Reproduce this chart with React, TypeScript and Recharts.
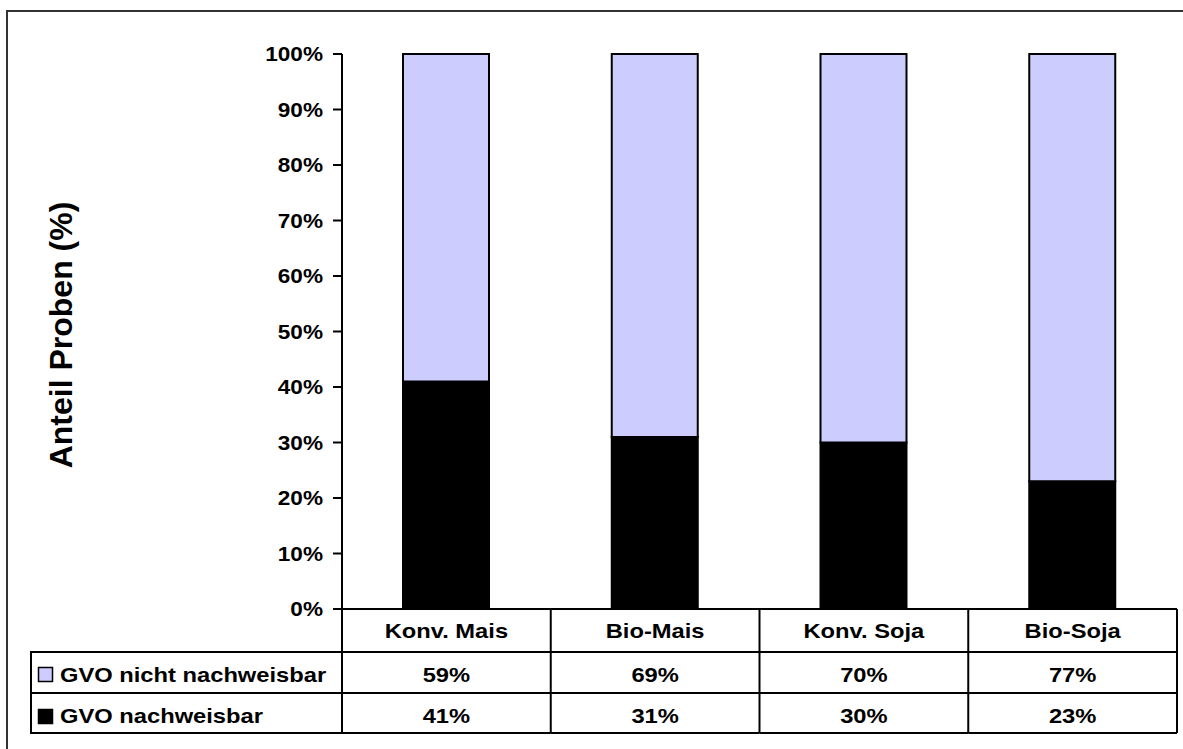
import React from 'react';
import { BarChart, Bar, XAxis, YAxis } from 'recharts';

const categories = ['Konv. Mais', 'Bio-Mais', 'Konv. Soja', 'Bio-Soja'];
const gvoNachweisbar = [41, 31, 30, 23];
const gvoNichtNachweisbar = [59, 69, 70, 77];
const seriesNames = ['GVO nicht nachweisbar', 'GVO nachweisbar'];
const yTicks = [0, 10, 20, 30, 40, 50, 60, 70, 80, 90, 100];
const yTitle = 'Anteil Proben (%)';

const W = 1183;
const H = 749;
const FONT = '"Liberation Sans", Arial, sans-serif';
const LIGHT = '#ccccff';
const STRETCH = 1.13;

const margin = { top: 54, right: 6, bottom: 0, left: 0 };
const Y_AXIS_W = 342;
const X_AXIS_H = 140;
const BAND = (W - margin.right - Y_AXIS_W) / categories.length;

const data = categories.map((c, i) => ({
  name: c,
  detected: gvoNachweisbar[i],
  notDetected: gvoNichtNachweisbar[i],
}));

function StretchText({ x, y, anchor = 'middle', size = 21, children }: any) {
  return (
    <g transform={`translate(${x},${y}) scale(${STRETCH},1)`}>
      <text x={0} y={0} textAnchor={anchor} fontFamily={FONT} fontWeight={700} fontSize={size} fill="#000">
        {children}
      </text>
    </g>
  );
}

function YTick({ x, y, payload }: any) {
  return (
    <g transform={`translate(${x},${y}) scale(${STRETCH},1)`}>
      <text x={0} y={0} dy="0.36em" textAnchor="end" fontFamily={FONT} fontWeight={700} fontSize={20} fill="#000">
        {payload.value}%
      </text>
    </g>
  );
}

function YTitle() {
  return (
    <g transform="translate(72,335) rotate(-90)">
      <text x={0} y={0} textAnchor="middle" fontFamily={FONT} fontWeight={700} fontSize={32} fill="#000">
        {yTitle}
      </text>
    </g>
  );
}

// one column of the data table under each category; the first one also draws the legend column
function TableColumn({ x, payload }: any) {
  const i = categories.indexOf(payload.value);
  const top = 609;
  const left = x - BAND / 2;
  const right = x + BAND / 2;
  const r1 = top + 43;
  const r2 = top + 84;
  const r3 = top + 124;
  const line = { stroke: '#000', strokeWidth: 2 };
  return (
    <g>
      <line x1={right} y1={top} x2={right} y2={r3} {...line} />
      <line x1={left} y1={r1} x2={right} y2={r1} {...line} />
      <line x1={left} y1={r2} x2={right} y2={r2} {...line} />
      <line x1={left} y1={r3} x2={right} y2={r3} {...line} />
      {i === 0 && (
        <g>
          <line x1={left} y1={top} x2={left} y2={r3} {...line} />
          <line x1={left - 311} y1={r1} x2={left} y2={r1} {...line} />
          <line x1={left - 311} y1={r2} x2={left} y2={r2} {...line} />
          <line x1={left - 311} y1={r3} x2={left} y2={r3} {...line} />
          <line x1={left - 311} y1={r1 - 1} x2={left - 311} y2={r3 + 1} {...line} />
          <rect x={left - 303.5} y={r1 + 15.5} width={14} height={14} fill={LIGHT} stroke="#000" strokeWidth={1.5} />
          <rect x={left - 303.5} y={r2 + 16.5} width={14} height={14} fill="#000" stroke="#000" strokeWidth={1.5} />
          <StretchText x={left - 282} y={r1 + 30} anchor="start">{seriesNames[0]}</StretchText>
          <StretchText x={left - 282} y={r2 + 30} anchor="start">{seriesNames[1]}</StretchText>
        </g>
      )}
      <StretchText x={x} y={top + 29}>{payload.value}</StretchText>
      <StretchText x={x} y={r1 + 30}>{gvoNichtNachweisbar[i]}%</StretchText>
      <StretchText x={x} y={r2 + 30}>{gvoNachweisbar[i]}%</StretchText>
    </g>
  );
}

export default function App() {
  return (
    <div style={{ position: 'absolute', left: 0, top: 0, width: W, height: H, overflow: 'hidden', background: '#fff' }}>
      <div
        style={{
          position: 'absolute', left: 6, top: 10, width: W, height: H,
          borderLeft: '2px solid #333', borderTop: '2px solid #333',
        }}
      />
      <div style={{ position: 'absolute', left: 0, top: 0 }}>
        <BarChart width={W} height={H} data={data} margin={margin}>
          <XAxis
            dataKey="name"
            height={X_AXIS_H}
            tickLine={false}
            tickSize={0}
            tickMargin={0}
            interval={0}
            axisLine={{ stroke: '#000', strokeWidth: 2 }}
            tick={<TableColumn />}
          />
          <YAxis
            width={Y_AXIS_W}
            domain={[0, 100]}
            ticks={yTicks}
            interval={0}
            tickSize={9}
            tickMargin={10}
            axisLine={{ stroke: '#000', strokeWidth: 2 }}
            tickLine={{ stroke: '#000', strokeWidth: 2 }}
            tick={<YTick />}
            label={<YTitle />}
          />
          <Bar dataKey="detected" stackId="a" fill="#000" stroke="#000" strokeWidth={2} barSize={86} isAnimationActive={false} />
          <Bar dataKey="notDetected" stackId="a" fill={LIGHT} stroke="#000" strokeWidth={2} barSize={86} isAnimationActive={false} />
        </BarChart>
      </div>
    </div>
  );
}
